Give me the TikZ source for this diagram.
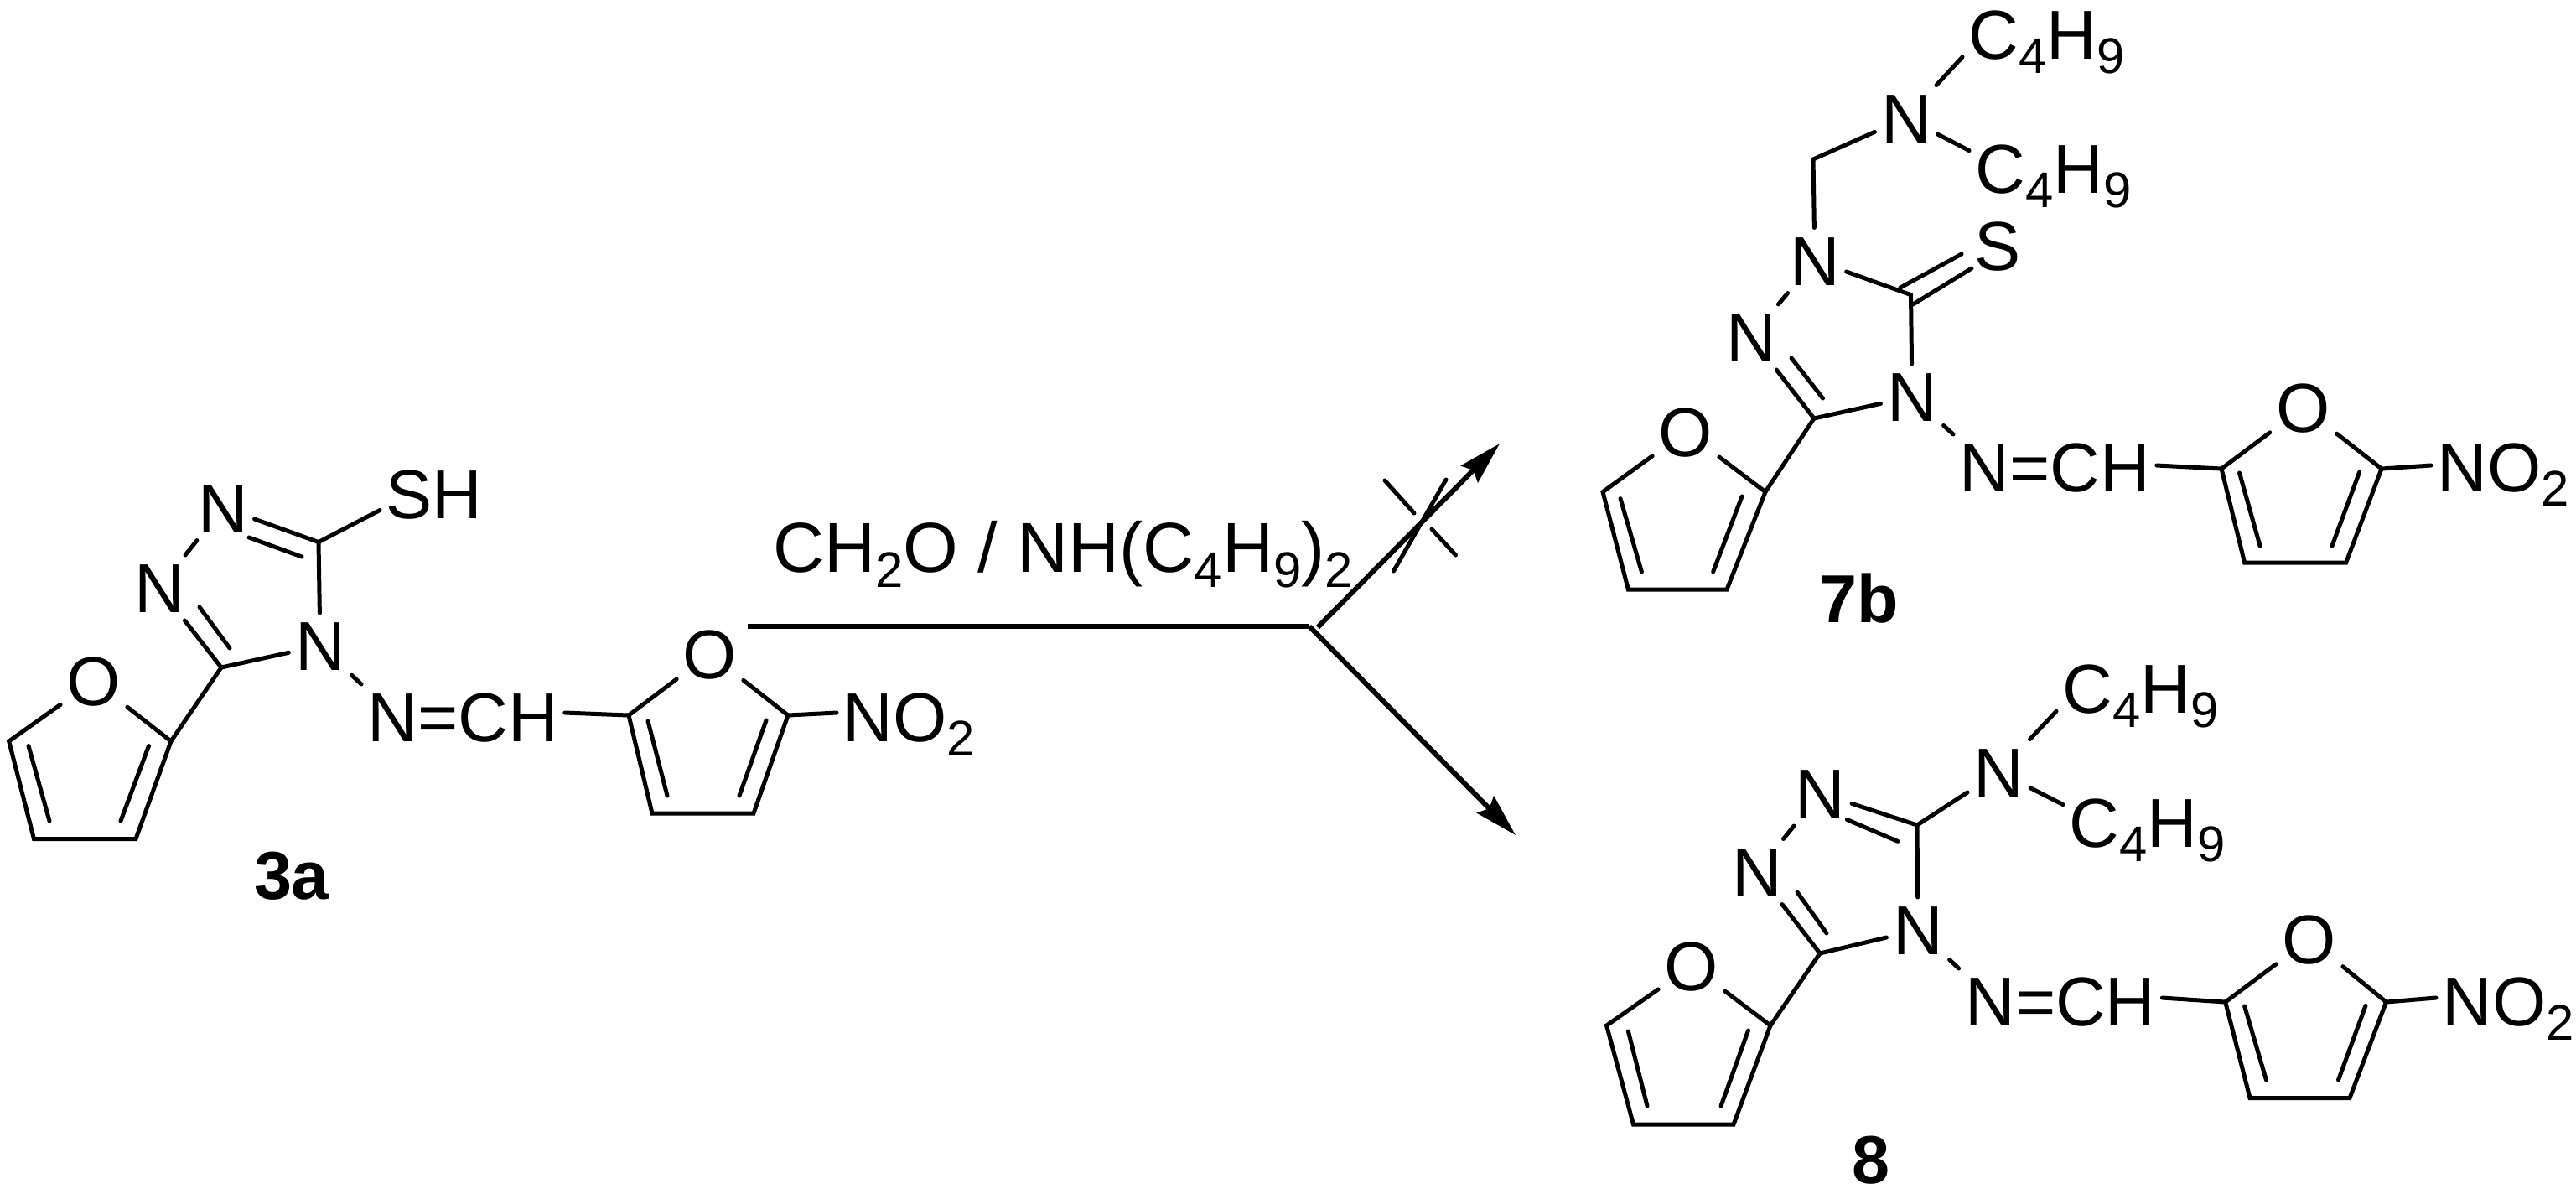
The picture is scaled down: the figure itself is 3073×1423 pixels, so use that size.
\documentclass[tikz,border=0pt]{standalone}
\usepackage{fontspec}
\setmainfont{Liberation Sans}
\usetikzlibrary{calc,arrows.meta}
\newcommand{\sbs}[1]{\raisebox{-4.9pt}{\fontsize{17}{17}\selectfont #1}}
\tikzset{
  bond/.style={line width=1.42pt,line join=miter,line cap=round},
  atom/.style={font=\fontsize{23.5}{23.5}\selectfont,inner xsep=2pt,inner ysep=2.5pt,text height=16.8pt,text depth=0pt},
  lab/.style={atom,anchor=west},
  cmpd/.style={font=\fontsize{23}{23}\bfseries\selectfont,inner sep=0pt,text height=16.4pt,text depth=0pt},
  rxn/.style={font=\fontsize{24}{24}\selectfont,inner sep=0pt,text height=17pt,text depth=0pt,anchor=west},
  rarrow/.style={line width=1.7pt,-{Stealth[length=14.5pt,width=8pt,inset=1.8pt]}},
  rline/.style={line width=1.7pt},
  cross/.style={line width=1.42pt,line cap=round}
}
\begin{document}
\begin{tikzpicture}[x=0.01cm,y=-0.01cm]
\useasboundingbox (0,0) rectangle (3073,1423);

% ---------- 3a ----------
\node[atom] (aN1) at (266,605.5) {N};
\node[atom] (aN2) at (190,701) {N};
\node[atom] (aN4) at (382,770) {N};
\node[lab]  (aSH) at (453,589) {SH};
\coordinate (aC3) at (380,646.5);
\coordinate (aC5) at (264,796);
\node[lab] (aNCH) at (431,855) {N=CH};
\node[lab] (aNO) at (998,855) {NO\sbs{2}};
\node[atom] (aO1) at (112,812) {O};
\coordinate (aa1) at (204,884);
\coordinate (aa2) at (162,1000.5);
\coordinate (aa3) at (40.5,1000.5);
\coordinate (aa4) at (10.7,884);
\node[atom] (aO2) at (847,780) {O};
\coordinate (ab1) at (750,853);
\coordinate (ab2) at (778,970);
\coordinate (ab3) at (899,970);
\coordinate (ab4) at (940,853);
\node[cmpd] (a3a) at (348,1044) {3a};
\draw[bond] (aC3) -- ($(aSH.south west)!.5!(aSH.west)$);
\draw[bond] (aN1) -- (aC3);
\draw[bond] (aN1) -- (aN2);
\draw[bond] (aC3) -- (aN4);
\draw[bond] (aC5) -- (aN4);
\draw[bond] (aN2) -- (aC5);
\draw[bond] (aC5) -- (aa1);
\draw[bond] (aN4) -- (aNCH.north west);
\draw[bond] ($(aNCH.east)+(0,-5)$) -- (ab1);
\draw[bond] (ab4) -- ($(aNO.west)+(0,-5)$);
\draw[bond] (aO1) -- (aa1) -- (aa2) -- (aa3) -- (aa4) -- (aO1);
\draw[bond] (aO2) -- (ab1) -- (ab2) -- (ab3) -- (ab4) -- (aO2);
\coordinate (ad1s) at (297,641); \coordinate (ad1e) at (360,664);
\coordinate (ad2s) at (274,773); \coordinate (ad2e) at (238,724);
\coordinate (ad3s) at (34,889.5); \coordinate (ad3e) at (59,979);
\coordinate (ad4s) at (177.5,889.5); \coordinate (ad4e) at (144,979);
\coordinate (ad5s) at (773,860); \coordinate (ad5e) at (796,949);
\coordinate (ad6s) at (914,859); \coordinate (ad6e) at (882,949);
\foreach \i in {1,...,6} \draw[bond] (ad\i s) -- (ad\i e);

% ---------- reaction arrows ----------
\node[rxn] (rlabel) at (922,653) {CH\sbs{2}O / NH(C\sbs{4}H\sbs{9})\sbs{2}};
\coordinate (rs) at (891.5,747);
\coordinate (rb) at (1562,747);
\coordinate (us) at (1572,748);
\coordinate (ru) at (1789,529);
\coordinate (rd) at (1808,996);
\draw[rline] (rs) -- (rb);
\draw[rarrow] (us) -- (ru);
\draw[rarrow] (rb) -- (rd);
\coordinate (xa1) at (1725,572); \coordinate (xa2) at (1662.5,681);
\coordinate (xb1) at (1652,573); \coordinate (xb2) at (1687,612);
\coordinate (xc1) at (1708,631); \coordinate (xc2) at (1736.5,662);
\draw[cross] (xa1) -- (xa2);
\draw[cross] (xb1) -- (xb2);
\draw[cross] (xc1) -- (xc2);

% ---------- 7b ----------
\node[lab] (bC1) at (2341,40.6) {C\sbs{4}H\sbs{9}};
\node[lab] (bC2) at (2349,201) {C\sbs{4}H\sbs{9}};
\node[atom] (bNa) at (2274,140.6) {N};
\coordinate (bCH2) at (2163,190);
\node[atom] (bN1) at (2165,310.5) {N};
\node[atom] (bS) at (2383,293) {S};
\coordinate (bC3) at (2279.5,351.6);
\node[atom] (bN2) at (2089,402) {N};
\node[atom] (bN4) at (2281,473) {N};
\coordinate (bC5) at (2164,499);
\node[atom] (bO1) at (2011,515) {O};
\coordinate (ba1) at (2106,586.6);
\coordinate (ba2) at (2060,703);
\coordinate (ba3) at (1942.4,703);
\coordinate (ba4) at (1912,586.6);
\node[lab] (bNCH) at (2330,557) {N=CH};
\node[atom] (bO2) at (2747.6,486) {O};
\coordinate (bb1) at (2650,559);
\coordinate (bb2) at (2677.6,671);
\coordinate (bb3) at (2798.6,671);
\coordinate (bb4) at (2841,559);
\node[lab] (bNO) at (2900,557) {NO\sbs{2}};
\node[cmpd] (b7b) at (2218,714) {7b};
\draw[bond] (bNa) -- ($(bC1.south west)!.3!(bC1.west)$);
\draw[bond] (bNa) -- ($(bC2.north west)!.45!(bC2.west)$);
\draw[bond] (bNa) -- (bCH2) -- (bN1);
\draw[bond] (bN1) -- (bC3);
\draw[bond] (bC3) -- (bN4);
\draw[bond] (bN1) -- (bN2);
\draw[bond] (bC5) -- (bN4);
\draw[bond] (bN2) -- (bC5);
\draw[bond] (bC5) -- (ba1);
\draw[bond] (bN4) -- (bNCH.north west);
\draw[bond] ($(bNCH.east)+(0,-2)$) -- (bb1);
\draw[bond] (bb4) -- ($(bNO.west)+(0,-2)$);
\draw[bond] (bO1) -- (ba1) -- (ba2) -- (ba3) -- (ba4) -- (bO1);
\draw[bond] (bO2) -- (bb1) -- (bb2) -- (bb3) -- (bb4) -- (bO2);
\coordinate (bd1s) at (2267,343); \coordinate (bd1e) at (2340,303);
\coordinate (bd2s) at (2282,363); \coordinate (bd2e) at (2352,320);
\coordinate (bd3s) at (2174.5,475); \coordinate (bd3e) at (2137,427);
\coordinate (bd4s) at (1933,594.6); \coordinate (bd4e) at (1958.4,682);
\coordinate (bd5s) at (2078,592); \coordinate (bd5e) at (2043.6,682);
\coordinate (bd6s) at (2671.5,564); \coordinate (bd6e) at (2696,651);
\coordinate (bd7s) at (2814.6,563); \coordinate (bd7e) at (2782,651);
\foreach \i in {1,...,7} \draw[bond] (bd\i s) -- (bd\i e);

% ---------- 8 ----------
\node[lab] (cC1) at (2453,821) {C\sbs{4}H\sbs{9}};
\node[lab] (cC2) at (2461,981) {C\sbs{4}H\sbs{9}};
\node[atom] (cNa) at (2384.6,920.6) {N};
\coordinate (cC3) at (2287,984);
\node[atom] (cN1) at (2171.5,946) {N};
\node[atom] (cN2) at (2096,1039.5) {N};
\node[atom] (cN4) at (2288,1109) {N};
\coordinate (cC5) at (2171,1137);
\node[atom] (cO1) at (2018,1152) {O};
\coordinate (ca1) at (2112,1223);
\coordinate (ca2) at (2068,1341);
\coordinate (ca3) at (1948.5,1341);
\coordinate (ca4) at (1916.5,1223);
\node[lab] (cNCH) at (2336.6,1194) {N=CH};
\node[atom] (cO2) at (2755,1120) {O};
\coordinate (cb1) at (2654.7,1195);
\coordinate (cb2) at (2684,1309.5);
\coordinate (cb3) at (2803,1309.5);
\coordinate (cb4) at (2846.5,1195);
\node[lab] (cNO) at (2906,1194) {NO\sbs{2}};
\node[cmpd] (c8) at (2231.6,1383) {8};
\draw[bond] (cNa) -- ($(cC1.south west)!.3!(cC1.west)$);
\draw[bond] (cNa) -- ($(cC2.north west)!.45!(cC2.west)$);
\draw[bond] (cC3) -- (cNa);
\draw[bond] (cN1) -- (cC3);
\draw[bond] (cN1) -- (cN2);
\draw[bond] (cC3) -- (cN4);
\draw[bond] (cC5) -- (cN4);
\draw[bond] (cN2) -- (cC5);
\draw[bond] (cC5) -- (ca1);
\draw[bond] (cN4) -- (cNCH.north west);
\draw[bond] ($(cNCH.east)+(0,-4)$) -- (cb1);
\draw[bond] (cb4) -- ($(cNO.west)+(0,-4)$);
\draw[bond] (cO1) -- (ca1) -- (ca2) -- (ca3) -- (ca4) -- (cO1);
\draw[bond] (cO2) -- (cb1) -- (cb2) -- (cb3) -- (cb4) -- (cO2);
\coordinate (cd1s) at (2203.4,977.5); \coordinate (cd1e) at (2264,1003.4);
\coordinate (cd2s) at (2179,1113); \coordinate (cd2e) at (2144,1064);
\coordinate (cd3s) at (1942.4,1230); \coordinate (cd3e) at (1965,1319);
\coordinate (cd4s) at (2085.5,1229); \coordinate (cd4e) at (2053,1319);
\coordinate (cd5s) at (2677.6,1200); \coordinate (cd5e) at (2703.4,1288);
\coordinate (cd6s) at (2822,1199.3); \coordinate (cd6e) at (2789.5,1288);
\foreach \i in {1,...,6} \draw[bond] (cd\i s) -- (cd\i e);
\end{tikzpicture}
\end{document}
